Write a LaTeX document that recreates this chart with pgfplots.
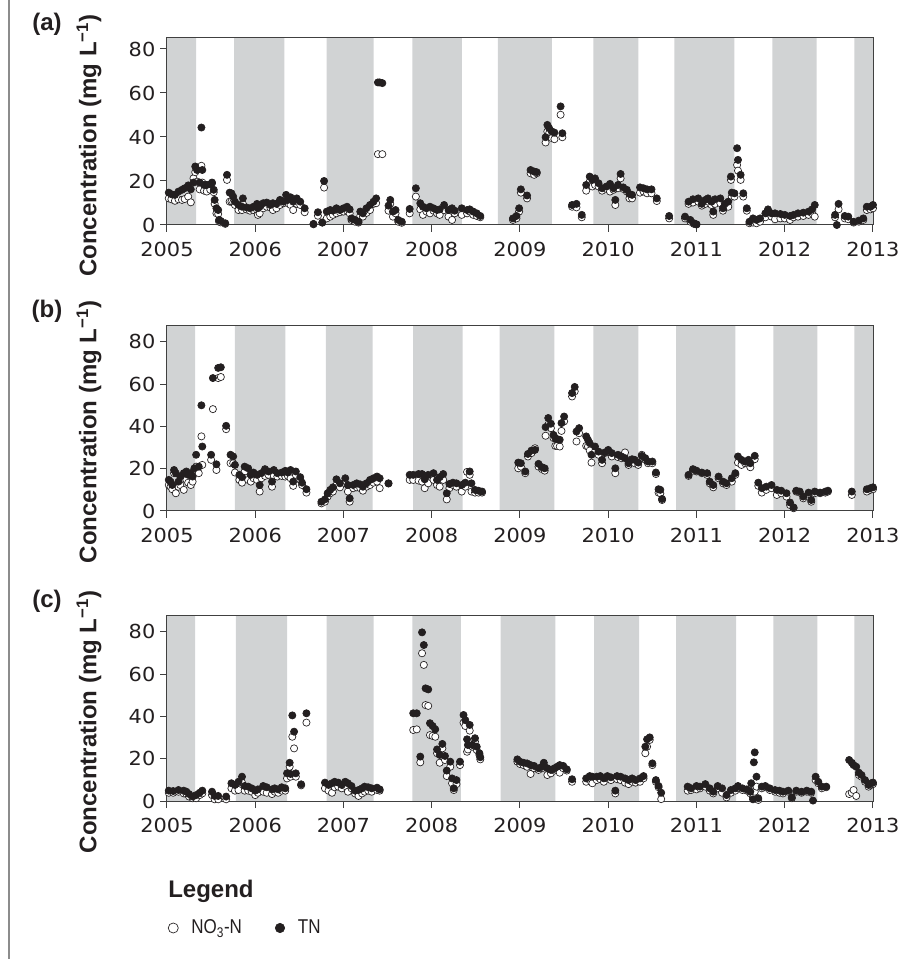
\documentclass[border=0pt]{standalone}
\usepackage{pgfplots}
\pgfplotsset{compat=1.18}
\usepackage{pgfplotstable}
\usepackage{fontspec}
\setmainfont{Liberation Sans}
\newfontfamily\tickfamily[FakeStretch=1.08]{DejaVu Sans}
\newfontfamily\narrowfamily[FakeStretch=0.85]{Liberation Sans}
\newcommand\tickfont{\tickfamily\fontsize{14.5}{17}\selectfont}
\newcommand\labfont{\bfseries\fontsize{18}{21}\selectfont}

\definecolor{bandgray}{RGB}{209,211,212}
\definecolor{ink}{RGB}{35,31,32}

% panel (a)
\pgfplotstableread{
x no3 tn
2005.02 12.1 14.7
2005.05 11.7 14.0
2005.09 11.0 13.7
2005.13 11.7 15.2
2005.17 11.4 16.0
2005.20 11.8 16.7
2005.24 12.9 18.0
2005.27 10.3 16.2
2005.30 21.2 19.3
2005.32 24.0 26.6
2005.34 19.7 25.0
2005.37 16.2 19.3
2005.39 26.9 44.3
2005.40 19.3 25.0
2005.42 15.6 18.2
2005.45 15.2 18.2
2005.49 16.0 18.5
2005.51 19.0 19.3
2005.53 14.9 16.0
2005.54 9.6 11.4
2005.56 5.3 7.6
2005.58 5.0 6.8
2005.59 1.5 2.3
2005.61 1.2 1.8
2005.66 0.5 0.8
2005.68 20.5 22.8
2005.71 10.6 14.7
2005.73 10.6 14.4
2005.75 10.2 12.9
2005.77 9.1 10.6
2005.81 6.8 9.1
2005.85 6.8 8.3
2005.86 9.6 12.1
2005.90 7.1 8.0
2005.94 6.5 7.6
2005.98 6.8 8.3
2006.02 6.8 9.6
2006.03 4.6 7.6
2006.05 5.3 8.3
2006.09 7.6 9.9
2006.13 8.3 10.2
2006.17 8.0 9.1
2006.20 6.8 9.9
2006.24 7.6 9.6
2006.28 9.1 11.4
2006.32 9.9 10.6
2006.35 12.1 13.7
2006.37 9.9 11.4
2006.40 9.1 12.6
2006.43 6.8 10.6
2006.47 9.6 12.1
2006.51 9.1 10.6
2006.56 5.8 7.6
2006.66 0.3 0.5
2006.71 4.2 5.8
2006.76 1.1 1.1
2006.78 17.0 20.0
2006.81 3.0 6.1
2006.85 3.8 6.8
2006.88 4.6 6.5
2006.92 5.3 7.6
2006.96 5.8 6.8
2007.00 6.1 7.6
2007.04 6.5 8.3
2007.07 5.3 7.1
2007.09 2.3 3.0
2007.13 1.5 2.3
2007.17 1.1 1.5
2007.19 4.1 6.1
2007.22 3.8 5.3
2007.26 5.5 7.6
2007.30 6.8 9.1
2007.34 9.6 10.6
2007.37 9.9 12.1
2007.39 32.2 64.8
2007.41 nan 64.8
2007.44 32.2 64.5
2007.51 6.5 8.8
2007.53 9.6 11.4
2007.56 3.8 6.1
2007.59 5.3 6.8
2007.62 1.5 2.3
2007.66 1.0 1.5
2007.75 5.3 7.3
2007.82 12.9 16.7
2007.87 7.1 9.9
2007.90 4.6 8.3
2007.94 6.1 7.6
2007.98 5.3 8.3
2008.02 6.5 7.6
2008.06 5.3 6.8
2008.09 4.6 7.1
2008.14 6.8 9.1
2008.19 3.8 6.8
2008.23 2.3 7.6
2008.26 5.3 6.5
2008.34 4.6 7.6
2008.40 5.3 6.8
2008.43 6.1 7.1
2008.47 4.6 6.1
2008.51 4.1 5.3
2008.55 3.5 4.1
2008.92 2.3 3.0
2008.96 3.0 4.1
2008.99 6.1 7.6
2009.01 14.7 16.2
2009.08 12.1 13.4
2009.12 23.5 25.0
2009.16 22.8 24.3
2009.19 23.5 24.0
2009.29 37.5 39.9
2009.31 42.5 45.5
2009.33 41.7 44.0
2009.36 39.5 42.5
2009.39 39.0 42.0
2009.46 50.1 53.9
2009.48 39.9 41.7
2009.59 8.3 9.1
2009.64 8.0 9.6
2009.70 3.5 4.6
2009.75 15.6 18.2
2009.79 19.7 22.0
2009.82 17.5 20.5
2009.85 18.2 21.2
2009.89 17.5 19.0
2009.93 15.6 16.7
2009.98 16.4 17.5
2010.02 15.2 18.7
2010.06 16.0 16.7
2010.08 9.1 11.4
2010.11 16.7 18.2
2010.14 21.2 23.2
2010.17 16.4 17.1
2010.21 15.2 16.0
2010.24 12.1 14.1
2010.27 12.1 13.7
2010.36 14.7 17.1
2010.40 15.2 16.7
2010.44 14.4 16.2
2010.49 14.4 16.2
2010.55 10.9 12.1
2010.69 3.0 4.1
2010.87 3.0 3.8
2010.91 9.6 10.6
2010.93 1.5 2.3
2010.96 10.2 11.7
2010.97 0.5 0.8
2011.00 0.2 0.3
2011.02 10.6 12.1
2011.06 8.8 9.6
2011.10 9.6 11.4
2011.13 10.6 12.1
2011.17 9.1 10.6
2011.19 4.6 6.1
2011.21 9.6 11.7
2011.27 9.9 12.1
2011.30 6.5 7.6
2011.32 8.3 9.6
2011.36 8.3 10.6
2011.39 20.5 22.0
2011.40 12.9 14.7
2011.43 12.9 14.4
2011.46 27.3 34.9
2011.47 24.7 29.6
2011.50 20.5 22.8
2011.53 12.9 14.4
2011.57 6.5 7.6
2011.60 0.8 1.5
2011.64 1.1 3.0
2011.68 0.8 2.3
2011.72 1.5 3.0
2011.78 3.5 5.3
2011.81 5.3 7.1
2011.85 3.8 5.3
2011.89 2.6 5.3
2011.95 3.0 5.0
2012.00 3.0 4.6
2012.06 2.3 4.1
2012.10 3.5 4.6
2012.15 3.8 5.3
2012.21 4.1 5.6
2012.27 4.6 6.1
2012.31 5.3 7.1
2012.34 3.8 9.1
2012.57 3.5 4.6
2012.59 nan 0.0
2012.61 7.1 9.6
2012.68 3.0 4.1
2012.72 2.6 3.8
2012.78 1.1 1.5
2012.84 1.5 2.0
2012.89 2.3 3.0
2012.93 6.8 8.3
2012.97 7.1 8.3
2013.00 7.6 9.1
}\dataa

% panel (b)
\pgfplotstableread{
x no3 tn
2005.02 12.3 14.7
2005.04 11.5 13.9
2005.06 10.3 12.3
2005.08 17.9 19.4
2005.10 8.4 17.9
2005.13 11.5 13.9
2005.15 12.3 16.3
2005.19 10.0 17.9
2005.22 14.7 18.7
2005.24 13.4 17.1
2005.27 12.3 17.9
2005.29 13.9 16.3
2005.31 17.9 20.2
2005.33 21.0 26.6
2005.36 17.9 21.0
2005.39 35.3 50.0
2005.40 21.8 30.5
2005.50 24.2 26.6
2005.52 48.2 62.9
2005.56 19.4 22.1
2005.58 62.9 67.7
2005.61 63.4 68.0
2005.67 38.7 40.3
2005.72 22.6 26.6
2005.75 22.6 25.8
2005.77 18.2 21.8
2005.82 14.7 17.1
2005.85 13.4 16.0
2005.88 18.7 21.0
2005.92 14.7 20.2
2005.95 13.9 17.1
2005.98 15.5 18.2
2006.02 14.7 17.1
2006.05 9.2 12.3
2006.07 15.5 17.9
2006.11 16.6 19.8
2006.15 17.1 18.7
2006.19 11.5 13.9
2006.21 16.6 19.4
2006.25 16.3 17.9
2006.30 16.6 18.2
2006.34 16.3 19.0
2006.37 16.6 18.2
2006.40 15.5 19.4
2006.43 11.9 13.9
2006.46 17.1 18.7
2006.51 14.7 16.0
2006.53 12.3 13.4
2006.58 8.7 10.3
2006.75 3.6 4.4
2006.79 4.4 5.5
2006.82 6.8 8.4
2006.85 8.4 10.0
2006.88 9.2 11.2
2006.92 12.3 15.0
2006.96 11.2 13.1
2007.02 13.1 15.5
2007.05 9.2 12.3
2007.07 4.4 6.0
2007.11 10.8 12.3
2007.15 11.2 13.1
2007.19 10.8 12.6
2007.22 9.6 11.5
2007.26 11.5 13.1
2007.30 12.3 14.7
2007.34 13.4 15.5
2007.38 13.9 16.3
2007.41 10.8 15.5
2007.51 13.0 13.1
2007.75 14.7 17.1
2007.79 14.7 17.1
2007.85 14.4 17.5
2007.89 13.9 17.5
2007.92 10.8 15.0
2007.96 13.1 17.1
2008.02 14.7 17.9
2008.06 12.3 14.7
2008.09 11.5 16.0
2008.13 14.7 17.5
2008.17 5.5 8.4
2008.20 10.8 12.8
2008.24 12.3 13.4
2008.28 11.5 13.1
2008.34 9.2 12.3
2008.38 11.5 13.4
2008.40 18.5 nan
2008.43 17.1 18.7
2008.45 9.2 13.1
2008.49 8.7 10.0
2008.53 8.7 9.6
2008.57 8.7 9.2
2008.98 20.2 22.9
2009.01 21.0 22.6
2009.06 17.9 18.7
2009.09 25.8 27.0
2009.13 27.4 28.6
2009.17 29.7 28.9
2009.21 21.0 22.3
2009.25 19.8 20.7
2009.28 19.1 20.2
2009.29 35.6 39.7
2009.32 40.8 44.0
2009.35 39.2 41.3
2009.38 34.5 36.0
2009.40 30.8 34.5
2009.42 30.8 34.0
2009.45 30.5 33.7
2009.47 37.9 41.6
2009.50 42.4 44.7
2009.59 54.2 55.8
2009.62 56.6 58.7
2009.64 32.9 37.6
2009.67 36.8 39.2
2009.75 30.8 35.3
2009.77 30.5 33.7
2009.79 28.6 32.1
2009.81 22.9 26.6
2009.85 28.1 30.5
2009.89 26.6 28.1
2009.93 22.6 24.2
2009.96 27.4 27.7
2010.00 28.1 28.9
2010.04 25.8 27.4
2010.08 17.9 20.2
2010.11 25.5 26.6
2010.15 25.0 25.8
2010.19 27.7 25.0
2010.23 21.8 22.6
2010.27 23.4 24.5
2010.30 22.6 24.2
2010.34 21.8 22.9
2010.38 26.6 26.1
2010.42 24.2 25.0
2010.45 22.6 23.4
2010.50 22.6 23.4
2010.54 17.5 18.2
2010.57 8.7 10.3
2010.59 8.4 10.0
2010.61 5.2 5.7
2010.91 16.6 17.1
2010.96 19.1 19.8
2011.00 18.7 19.1
2011.06 17.9 18.2
2011.12 17.1 17.9
2011.15 13.1 13.9
2011.19 11.2 12.3
2011.25 15.5 16.3
2011.30 13.1 13.9
2011.34 12.3 13.1
2011.40 13.9 15.5
2011.44 17.1 17.9
2011.47 22.9 25.8
2011.51 21.8 24.2
2011.55 22.6 23.4
2011.59 22.6 24.2
2011.61 20.7 22.6
2011.66 24.5 26.1
2011.70 11.9 13.4
2011.74 8.7 10.8
2011.79 10.0 11.5
2011.85 10.8 12.3
2011.91 7.6 10.0
2011.96 8.4 9.6
2012.02 6.8 8.4
2012.06 2.8 4.0
2012.10 1.3 1.7
2012.13 9.2 9.6
2012.17 8.7 9.2
2012.21 6.0 6.8
2012.27 8.1 8.7
2012.30 4.4 5.2
2012.34 8.4 9.2
2012.40 8.4 8.7
2012.46 8.7 9.2
2012.49 9.2 9.6
2012.76 7.6 9.2
2012.93 9.2 10.3
2012.97 10.0 10.8
2013.00 10.3 11.2
}\datab

% panel (c)
\pgfplotstableread{
x no3 tn
2005.02 3.9 4.9
2005.07 3.9 4.7
2005.13 4.4 5.2
2005.19 3.6 4.9
2005.22 3.3 4.4
2005.25 2.1 3.3
2005.29 1.3 2.1
2005.33 1.3 2.8
2005.37 2.8 3.9
2005.40 3.6 4.9
2005.51 2.8 4.4
2005.54 0.8 2.4
2005.58 0.8 2.4
2005.67 0.8 2.1
2005.73 6.0 8.4
2005.77 4.9 7.6
2005.81 5.2 9.1
2005.85 8.7 11.5
2005.88 4.9 7.1
2005.92 4.9 6.8
2005.96 4.4 6.0
2006.00 2.8 4.9
2006.03 3.9 5.5
2006.09 4.4 7.1
2006.13 3.9 6.5
2006.19 3.3 5.5
2006.22 4.4 6.0
2006.26 3.9 5.5
2006.30 4.9 6.5
2006.34 4.9 6.0
2006.36 10.7 13.1
2006.39 16.2 18.1
2006.40 11.5 12.8
2006.42 30.4 40.5
2006.44 24.9 32.8
2006.46 11.5 13.1
2006.52 7.4 7.9
2006.58 37.1 41.5
2006.79 6.0 8.7
2006.83 4.9 7.6
2006.87 3.9 8.4
2006.90 6.5 9.1
2006.94 6.8 8.7
2006.98 6.0 7.6
2007.02 7.1 9.1
2007.05 4.4 8.4
2007.09 6.0 7.1
2007.13 3.6 4.9
2007.17 2.4 5.2
2007.21 3.6 6.0
2007.24 4.4 6.8
2007.28 4.9 6.5
2007.32 4.4 6.0
2007.38 5.2 6.3
2007.41 4.9 5.5
2007.79 33.6 41.5
2007.83 33.9 41.5
2007.87 18.3 21.0
2007.89 69.9 79.8
2007.91 64.4 73.8
2007.93 45.4 53.3
2007.96 45.0 52.8
2007.98 31.2 36.8
2008.01 30.8 35.5
2008.04 30.4 33.9
2008.06 22.6 24.4
2008.09 18.1 21.8
2008.12 24.9 27.0
2008.15 19.4 21.3
2008.17 11.8 14.4
2008.21 16.2 18.6
2008.23 8.4 10.7
2008.25 5.2 6.0
2008.28 8.0 9.9
2008.32 17.0 18.6
2008.36 37.1 40.7
2008.38 35.5 38.3
2008.40 23.3 29.2
2008.41 24.4 26.5
2008.43 33.3 36.0
2008.46 25.7 26.5
2008.49 28.1 29.7
2008.51 24.1 25.7
2008.54 21.8 22.6
2008.55 19.7 20.7
2008.97 18.6 19.7
2009.00 17.5 18.6
2009.04 17.0 18.1
2009.08 16.2 17.8
2009.12 12.8 17.0
2009.16 15.5 16.6
2009.21 14.7 15.5
2009.25 15.5 16.2
2009.27 17.0 18.1
2009.31 12.3 15.5
2009.35 13.1 14.7
2009.39 14.4 15.5
2009.42 14.7 16.2
2009.45 13.4 17.0
2009.49 15.5 16.6
2009.53 14.4 15.0
2009.59 9.1 10.3
2009.75 9.1 10.7
2009.79 9.9 11.8
2009.82 8.4 11.5
2009.87 9.9 11.5
2009.91 10.3 11.8
2009.95 9.1 10.7
2009.99 10.7 11.8
2010.03 9.9 11.2
2010.08 3.6 4.9
2010.10 10.3 11.8
2010.14 9.9 11.5
2010.19 8.7 10.7
2010.23 8.0 9.9
2010.27 9.1 10.7
2010.31 8.7 9.9
2010.36 9.1 10.7
2010.40 10.7 11.8
2010.42 22.6 25.7
2010.44 25.7 29.2
2010.47 28.9 30.1
2010.50 17.0 17.8
2010.54 9.1 9.9
2010.57 6.5 7.1
2010.60 0.9 3.9
2010.90 4.9 6.8
2010.94 5.2 6.0
2011.00 5.5 7.1
2011.04 6.0 6.8
2011.10 6.8 8.0
2011.15 4.9 6.0
2011.19 3.6 4.4
2011.24 6.0 7.1
2011.29 3.9 6.0
2011.34 1.7 2.8
2011.39 3.9 5.2
2011.44 4.9 6.0
2011.47 6.0 7.1
2011.52 5.2 6.0
2011.57 4.9 5.5
2011.61 3.6 4.4
2011.62 4.9 8.4
2011.64 1.7 0.8
2011.65 5.2 18.3
2011.66 4.4 23.0
2011.68 6.8 11.5
2011.70 0.5 1.3
2011.74 6.0 6.8
2011.78 6.5 7.1
2011.83 5.2 6.0
2011.89 4.4 5.2
2011.94 3.9 4.9
2011.98 3.6 4.4
2012.04 4.4 4.9
2012.08 1.3 1.7
2012.13 4.4 4.9
2012.19 3.9 4.4
2012.25 4.4 4.9
2012.30 3.9 4.4
2012.32 nan 0.2
2012.35 9.9 11.5
2012.38 8.4 9.1
2012.42 6.0 6.8
2012.47 6.5 6.8
2012.73 3.3 19.4
2012.76 3.9 18.1
2012.78 5.2 17.0
2012.81 2.4 16.2
2012.84 12.3 13.4
2012.87 11.5 12.3
2012.91 9.1 9.9
2012.95 6.8 7.6
2012.98 7.6 8.4
2013.00 8.0 8.7
}\datac

\pgfplotsset{
  panel/.style={
    scale only axis, width=529.5pt,
    xmin=2005, xmax=2013, ymin=0,
    xtick={2005,...,2013}, ytick={0,20,...,80},
    tick pos=left, tick align=outside, major tick length=5.25pt,
    tick style={line width=0.75pt, color=black!75},
    axis line style={line width=0.75pt, draw=black!75},
    tick label style={font=\tickfont, text=ink},
    /pgf/number format/assume math mode=true,
    xticklabel style={/pgf/number format/1000 sep={}},
    xticklabel shift=4pt,
    axis on top, clip=false,
  },
  no3/.style={only marks, mark=*, mark size=2.7pt,
    mark options={fill=white, draw=ink, line width=0.5pt},
    legend image code/.code={\path[draw=none] (0pt,0pt) (16pt,0pt);
      \draw[##1, every mark/.append style={scale=1.4}] plot coordinates {(4.5pt,0pt)};}},
  tn/.style={only marks, mark=*, mark size=2.7pt,
    mark options={fill=ink, draw=ink, line width=0.5pt},
    legend image code/.code={\path[draw=none] (0pt,0pt) (16pt,0pt);
      \draw[##1, every mark/.append style={scale=1.3}] plot coordinates {(4.5pt,0pt)};}},
}

\newcommand\ylab{\node[xshift=-58.5pt, yshift=-10.5pt, rotate=90, font=\labfont, text=ink]
  at (rel axis cs:0,0.5) {Concentration (mg L\textsuperscript{−1})};}
\newcommand\plab[1]{\node[xshift=-90pt, yshift=10.5pt, font=\labfont, text=ink]
  at (rel axis cs:0,1) {(#1)};}

\begin{document}
\begin{tikzpicture}
\useasboundingbox (-125.25pt,-118.5pt) rectangle (565.5pt,600.75pt);
\draw[line width=1.3pt, color=black!45] (-118.5pt,-118.5pt) -- (-118.5pt,600.75pt);

% (a)
\begin{axis}[panel, at={(0,432pt)}, anchor=south west, height=140.25pt, ymax=85]
\addplot[fill=bandgray, draw=none, forget plot] coordinates {
 (2005,0)(2005,85)(2005.33,85)(2005.33,0)
 (2005.76,0)(2005.76,85)(2006.33,85)(2006.33,0)
 (2006.81,0)(2006.81,85)(2007.34,85)(2007.34,0)
 (2007.78,0)(2007.78,85)(2008.34,85)(2008.34,0)
 (2008.75,0)(2008.75,85)(2009.36,85)(2009.36,0)
 (2009.83,0)(2009.83,85)(2010.34,85)(2010.34,0)
 (2010.75,0)(2010.75,85)(2011.43,85)(2011.43,0)
 (2011.86,0)(2011.86,85)(2012.36,85)(2012.36,0)
 (2012.79,0)(2012.79,85)(2013,85)(2013,0)} \closedcycle;
\addplot[no3] table[x=x, y=no3] {\dataa};
\addplot[tn] table[x=x, y=tn] {\dataa};
\ylab
\plab{a}
\end{axis}

% (b)
\begin{axis}[panel, at={(0,217.5pt)}, anchor=south west, height=139.5pt, ymax=88]
\addplot[fill=bandgray, draw=none, forget plot] coordinates {
 (2005,0)(2005,88)(2005.32,88)(2005.32,0)
 (2005.77,0)(2005.77,88)(2006.34,88)(2006.34,0)
 (2006.80,0)(2006.80,88)(2007.33,88)(2007.33,0)
 (2007.79,0)(2007.79,88)(2008.35,88)(2008.35,0)
 (2008.77,0)(2008.77,88)(2009.39,88)(2009.39,0)
 (2009.83,0)(2009.83,88)(2010.34,88)(2010.34,0)
 (2010.77,0)(2010.77,88)(2011.44,88)(2011.44,0)
 (2011.87,0)(2011.87,88)(2012.37,88)(2012.37,0)
 (2012.79,0)(2012.79,88)(2013,88)(2013,0)} \closedcycle;
\addplot[no3] table[x=x, y=no3] {\datab};
\addplot[tn] table[x=x, y=tn] {\datab};
\ylab
\plab{b}
\end{axis}

% (c)
\begin{axis}[panel, at={(0,0)}, anchor=south west, height=139.5pt, ymax=88,
  legend columns=2,
  legend style={at={(rel axis cs:0,0)}, anchor=west, yshift=-95.25pt,
    draw=none, fill=none, inner sep=0pt,
    font=\narrowfamily\fontsize{15}{18}\selectfont, text=ink,
    /tikz/every even column/.append style={column sep=22pt}}]
\addplot[fill=bandgray, draw=none, forget plot] coordinates {
 (2005,0)(2005,88)(2005.32,88)(2005.32,0)
 (2005.78,0)(2005.78,88)(2006.36,88)(2006.36,0)
 (2006.81,0)(2006.81,88)(2007.34,88)(2007.34,0)
 (2007.78,0)(2007.78,88)(2008.33,88)(2008.33,0)
 (2008.78,0)(2008.78,88)(2009.40,88)(2009.40,0)
 (2009.84,0)(2009.84,88)(2010.35,88)(2010.35,0)
 (2010.77,0)(2010.77,88)(2011.45,88)(2011.45,0)
 (2011.87,0)(2011.87,88)(2012.37,88)(2012.37,0)
 (2012.79,0)(2012.79,88)(2013,88)(2013,0)} \closedcycle;
\addplot[no3] table[x=x, y=no3] {\datac};
\addplot[tn] table[x=x, y=tn] {\datac};
\legend{NO\textsubscript{3}-N, TN}
\ylab
\plab{c}
\node[anchor=base west, inner sep=0pt, xshift=0.75pt, yshift=-72pt, font=\labfont, text=ink]
  at (rel axis cs:0,0) {Legend};
\end{axis}
\end{tikzpicture}
\end{document}
